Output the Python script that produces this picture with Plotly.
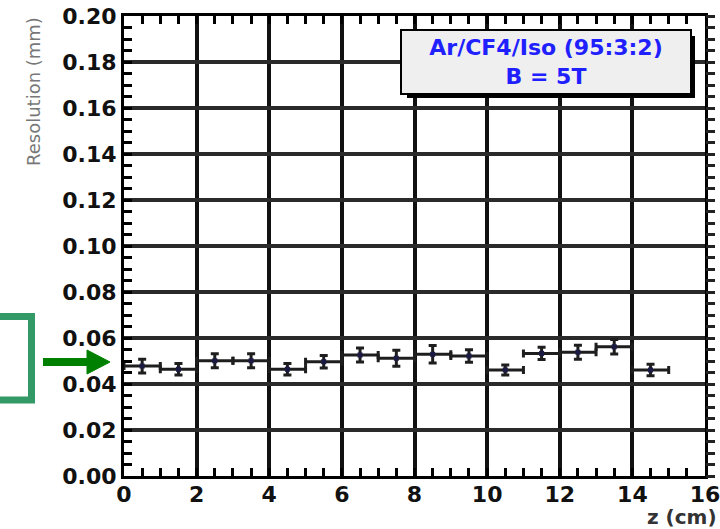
import plotly.graph_objects as go

# ---- data ----
z_cm = [0.5, 1.5, 2.5, 3.5, 4.5, 5.5, 6.5, 7.5, 8.5, 9.5, 10.5, 11.5, 12.5, 13.5, 14.5]
z_halfwidth = [0.5] * 15
resolution_mm = [0.0478, 0.0464, 0.0501, 0.0501, 0.0464, 0.0497, 0.0526, 0.0512,
                 0.0529, 0.0522, 0.0461, 0.0533, 0.0538, 0.0562, 0.0461]
resolution_err = [0.0030, 0.0025, 0.0030, 0.0030, 0.0025, 0.0027, 0.0030, 0.0035,
                  0.0038, 0.0027, 0.0022, 0.0027, 0.0030, 0.0032, 0.0025]
x_ticks = [0, 2, 4, 6, 8, 10, 12, 14, 16]
y_ticks = [0.00, 0.02, 0.04, 0.06, 0.08, 0.10, 0.12, 0.14, 0.16, 0.18, 0.20]
y_ticklabels = ["0.00", "0.02", "0.04", "0.06", "0.08", "0.10", "0.12", "0.14", "0.16", "0.18", "0.20"]
legend_lines = ["Ar/CF4/Iso (95:3:2)", "B = 5T"]

W, H = 720, 529
L, R, T, B = 124, 15, 16, 53
PW, PH = W - L - R, H - T - B


def px(xp):
    return (xp - L) / PW


def py(yp):
    return (H - B - yp) / PH


TICKFONT = dict(family="DejaVu Sans", size=22, color="#111111", weight="bold")

fig = go.Figure()
fig.add_trace(go.Scatter(
    x=z_cm, y=resolution_mm, mode="markers",
    marker=dict(symbol="square", size=5, color="#1a1a44"),
    error_y=dict(type="data", array=resolution_err, thickness=3, width=4, color="#1e1e1e"),
    error_x=dict(type="data", array=z_halfwidth, thickness=3, width=4, color="#1e1e1e"),
    showlegend=False, hoverinfo="skip",
))
# invisible companion trace so the right-hand tick axis is drawn
fig.add_trace(go.Scatter(
    x=z_cm, y=resolution_mm, mode="markers", yaxis="y2",
    marker=dict(size=1, opacity=0), showlegend=False, hoverinfo="skip",
))

fig.update_layout(
    template="none",
    width=W, height=H,
    margin=dict(l=L, r=R, t=T, b=B, autoexpand=False),
    paper_bgcolor="white", plot_bgcolor="white",
    xaxis=dict(
        range=[0, 16], tickvals=x_ticks, ticks="inside", ticklen=8, tickwidth=2.5,
        tickcolor="black", showgrid=True, gridcolor="#111111", gridwidth=4,
        showline=True, linecolor="black", linewidth=3, mirror="allticks",
        zeroline=False, tickfont=TICKFONT, automargin=False, ticklabeloverflow="allow",
        ticklabelstandoff=-3,
        minor=dict(dtick=0.5, ticks="inside", ticklen=7, tickwidth=2.5, tickcolor="black", showgrid=False),
    ),
    yaxis=dict(
        range=[0, 0.2], tickvals=y_ticks, ticktext=y_ticklabels, ticks="inside", ticklen=8,
        tickwidth=2.5, tickcolor="black", showgrid=True, gridcolor="#2a2a2a", gridwidth=3.5,
        showline=True, linecolor="black", linewidth=3, mirror=True,
        zeroline=False, tickfont=TICKFONT, automargin=False, ticklabeloverflow="allow",
        minor=dict(dtick=0.005, ticks="inside", ticklen=8, tickwidth=2.5, tickcolor="black", showgrid=False),
    ),
    yaxis2=dict(
        range=[0, 0.2], overlaying="y", side="right", tickvals=y_ticks, ticks="outside",
        ticklen=9, tickwidth=2.5, tickcolor="#222222", showticklabels=False, showgrid=False,
        showline=False, zeroline=False, automargin=False,
        minor=dict(dtick=0.005, ticks="outside", ticklen=9, tickwidth=2.5, tickcolor="#222222", showgrid=False),
    ),
)

# legend box (shadow + box)
box_x, box_y = px(546), py(62)
fig.add_annotation(
    xref="paper", yref="paper", x=box_x, y=box_y, xanchor="center", yanchor="middle",
    text=" ", width=288, height=62, bgcolor="black", borderwidth=0, borderpad=0,
    xshift=5, yshift=-5, showarrow=False,
)
fig.add_annotation(
    xref="paper", yref="paper", x=box_x, y=box_y, xanchor="center", yanchor="middle",
    text="<br>".join(legend_lines), width=288, height=62, bgcolor="#efefef",
    bordercolor="black", borderwidth=2, borderpad=0, showarrow=False, align="center",
    font=dict(family="DejaVu Sans", size=22, color="#2020ff", weight="bold"),
)

# axis titles
fig.add_annotation(
    xref="paper", yref="paper", x=px(33), y=py(92), xanchor="center", yanchor="middle",
    text="Resolution (mm)", textangle=-90, showarrow=False,
    font=dict(family="DejaVu Sans", size=18, color="#777777"),
)
fig.add_annotation(
    xref="paper", yref="paper", x=px(719), y=py(531), xanchor="right", yanchor="bottom",
    text="z (cm)", showarrow=False,
    font=dict(family="DejaVu Sans", size=20, color="#333333", weight="bold"),
)

# green highlight box and arrow
fig.add_shape(type="rect", xref="paper", yref="paper",
              x0=px(-40), x1=px(31.5), y0=py(400), y1=py(316.5),
              line=dict(color="#339966", width=7), fillcolor="rgba(0,0,0,0)", layer="above")
fig.add_shape(type="line", xref="paper", yref="paper",
              x0=px(43), x1=px(89), y0=py(362), y1=py(362),
              line=dict(color="#008000", width=8), layer="above")
fig.add_shape(type="path", xref="paper", yref="paper",
              path=f"M {px(87)},{py(350)} L {px(110)},{py(362)} L {px(87)},{py(374)} Z",
              line=dict(color="#008000", width=1), fillcolor="#008000", layer="above")

fig.write_html(
    "out.html",
    config={"displayModeBar": False},
    post_script="document.body.style.margin='0';document.body.style.overflow='hidden';",
)
